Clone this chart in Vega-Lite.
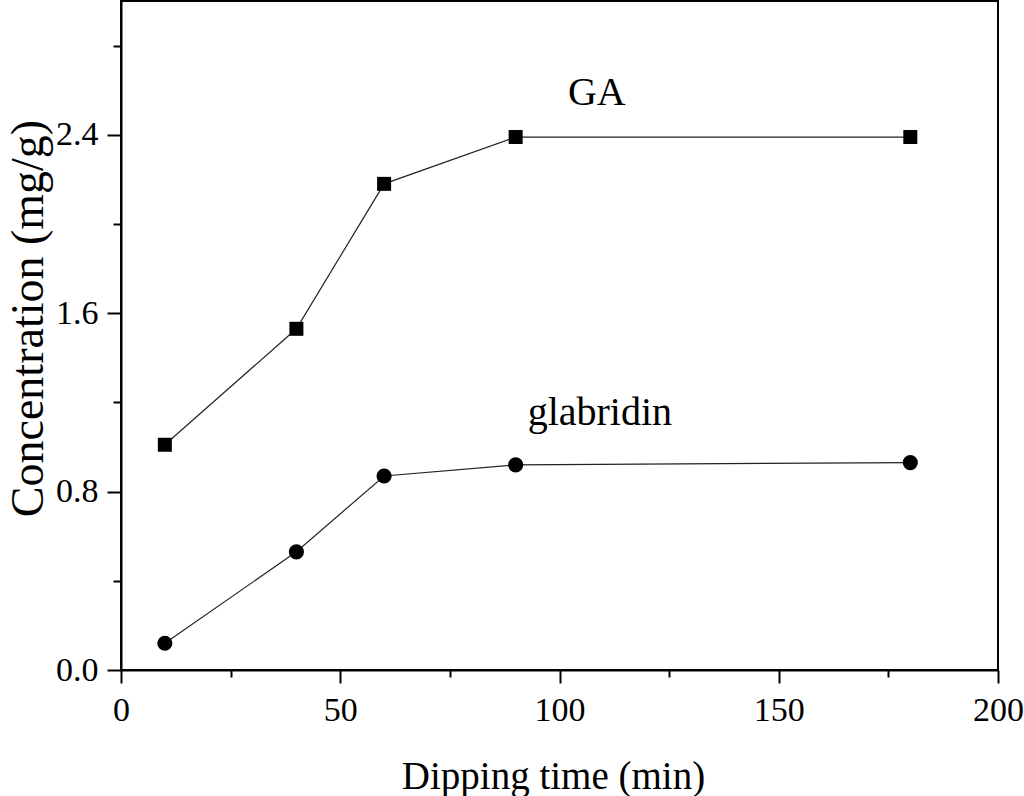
{
  "$schema": "https://vega.github.io/schema/vega-lite/v6.json",
  "width": 877,
  "height": 669,
  "padding": {"left": 121, "top": 1, "right": 26, "bottom": 126},
  "autosize": {"type": "none"},
  "background": "white",
  "config": {
    "view": {"stroke": "black", "strokeWidth": 2},
    "font": "Liberation Serif",
    "axis": {
      "grid": false,
      "domainColor": "black",
      "domainWidth": 2,
      "tickColor": "black",
      "tickWidth": 2,
      "labelColor": "black",
      "titleColor": "black",
      "labelFont": "Liberation Serif",
      "titleFont": "Liberation Serif",
      "titleFontWeight": "normal",
      "labelFontSize": 34,
      "labelFlush": false,
      "labelOverlap": false
    }
  },
  "datasets": {
    "series": [
      {"series": "GA", "time": 10, "conc": 1.01},
      {"series": "GA", "time": 40, "conc": 1.53},
      {"series": "GA", "time": 60, "conc": 2.18},
      {"series": "GA", "time": 90, "conc": 2.39},
      {"series": "GA", "time": 180, "conc": 2.39},
      {"series": "glabridin", "time": 10, "conc": 0.12},
      {"series": "glabridin", "time": 40, "conc": 0.53},
      {"series": "glabridin", "time": 60, "conc": 0.87},
      {"series": "glabridin", "time": 90, "conc": 0.92},
      {"series": "glabridin", "time": 180, "conc": 0.93}
    ],
    "labels": [
      {"text": "GA", "time": 108.5, "conc": 2.533},
      {"text": "glabridin", "time": 109.2, "conc": 1.099}
    ]
  },
  "encoding": {
    "x": {
      "field": "time",
      "type": "quantitative",
      "scale": {"domain": [0, 200], "nice": false, "zero": false},
      "axis": {
        "title": "Dipping time (min)",
        "titleFontSize": 39,
        "values": [0, 25, 50, 75, 100, 125, 150, 175, 200],
        "tickSize": {"condition": {"test": "datum.value % 50 === 0", "value": 13}, "value": 7},
        "labelExpr": "datum.value % 50 === 0 ? datum.label : ''",
        "labelPadding": 10,
        "titleX": 432,
        "titleY": 118,
        "titleBaseline": "alphabetic",
        "titleAnchor": "start",
        "titleAlign": "center"
      }
    },
    "y": {
      "field": "conc",
      "type": "quantitative",
      "scale": {"domain": [0, 3.0], "nice": false, "zero": false},
      "axis": {
        "title": "Concentration (mg/g)",
        "titleFontSize": 46,
        "values": [0, 0.4, 0.8, 1.2, 1.6, 2.0, 2.4, 2.8],
        "format": ".1f",
        "tickSize": {"condition": {"test": "abs(datum.value/0.8 - round(datum.value/0.8)) < 0.01", "value": 14}, "value": 8},
        "labelExpr": "abs(datum.value/0.8 - round(datum.value/0.8)) < 0.01 ? datum.label : ''",
        "labelPadding": 9,
        "titleX": -79,
        "titleY": 317,
        "titleBaseline": "alphabetic",
        "titleAngle": -90,
        "titleAlign": "center"
      }
    }
  },
  "layer": [
    {
      "data": {"name": "series"},
      "mark": {"type": "line", "color": "#222222", "strokeWidth": 1.2},
      "encoding": {"detail": {"field": "series"}}
    },
    {
      "data": {"name": "series"},
      "mark": {"type": "point", "filled": true, "color": "black", "opacity": 1},
      "encoding": {
        "shape": {
          "field": "series",
          "type": "nominal",
          "scale": {"domain": ["GA", "glabridin"], "range": ["square", "circle"]},
          "legend": null
        },
        "size": {
          "field": "series",
          "type": "nominal",
          "scale": {"domain": ["GA", "glabridin"], "range": [196, 230]},
          "legend": null
        }
      }
    },
    {
      "data": {"name": "labels"},
      "mark": {"type": "text", "font": "Liberation Serif", "fontSize": 40, "color": "black", "align": "center", "baseline": "alphabetic"},
      "encoding": {"text": {"field": "text"}}
    }
  ]
}
